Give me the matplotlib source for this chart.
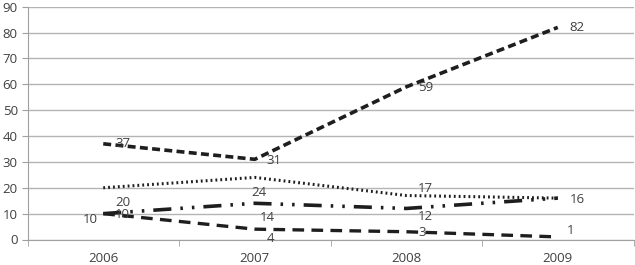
import matplotlib.pyplot as plt
import numpy as np

years = ['2006', '2007', '2008', '2009']
series_a = [37, 31, 59, 82]
series_b = [20, 24, 17, 16]
series_c = [10, 14, 12, 16]
series_d = [10, 4, 3, 1]

# label offsets (pixels) per point, None = no label
off_a = [(12, 0), (12, -1), (12, -1), (12, 0)]
off_b = [(12, -15), (-3, -15), (12, 7), None]
off_c = [(-20, -6), (5, -14), (12, -8), (12, -1)]
off_d = [(12, -1), (12, -9), (12, -1), (9, 6)]

plt.rcParams['font.family'] = ['Open Sans', 'DejaVu Sans']
fig = plt.figure(figsize=(6.35, 2.65), dpi=100)
ax = fig.add_axes([27.5 / 635, 1 - 239.5 / 265, 606 / 635, 232.8 / 265])

x = np.arange(len(years))
col = '#1e1e1e'
ax.plot(x, series_a, color=col, lw=2.6, dashes=(2.2, 1.2))
ax.plot(x, series_b, color=col, lw=2.2, dashes=(0.6, 1.0))
ax.plot(x, series_c, color=col, lw=2.6, dashes=(5, 2.5, 0.7, 2.5, 0.7, 2.5))
ax.plot(x, series_d, color=col, lw=2.4, dashes=(3.5, 2.2))

for vals, offs in [(series_a, off_a), (series_b, off_b), (series_c, off_c), (series_d, off_d)]:
    for xi, v, o in zip(x, vals, offs):
        if o is None:
            continue
        ax.annotate(str(v), (xi, v), xytext=o, textcoords='offset pixels',
                    fontsize=9.5, color='#404040', va='center', ha='left')

ax.set_xlim(-0.5, 3.5)
ax.set_ylim(0, 90)
ax.set_yticks(range(0, 91, 10))
ax.set_xticks(x)
ax.set_xticklabels(years)
ax.set_xticks(np.arange(-0.5, 3.6, 1), minor=True)
ax.tick_params(axis='x', which='major', length=0, pad=9, labelsize=9.5, labelcolor='#404040')
ax.tick_params(axis='x', which='minor', length=4, color='#a0a0a0')
ax.tick_params(axis='y', length=4, color='#a0a0a0', labelsize=9.5, labelcolor='#404040', pad=3)
ax.grid(axis='y', color='#b4b4b4', lw=1)
ax.set_axisbelow(True)
for s in ['top', 'right']:
    ax.spines[s].set_visible(False)
ax.spines['left'].set_color('#a0a0a0')
ax.spines['bottom'].set_color('#a0a0a0')

fig.savefig('out.png', dpi=100)
